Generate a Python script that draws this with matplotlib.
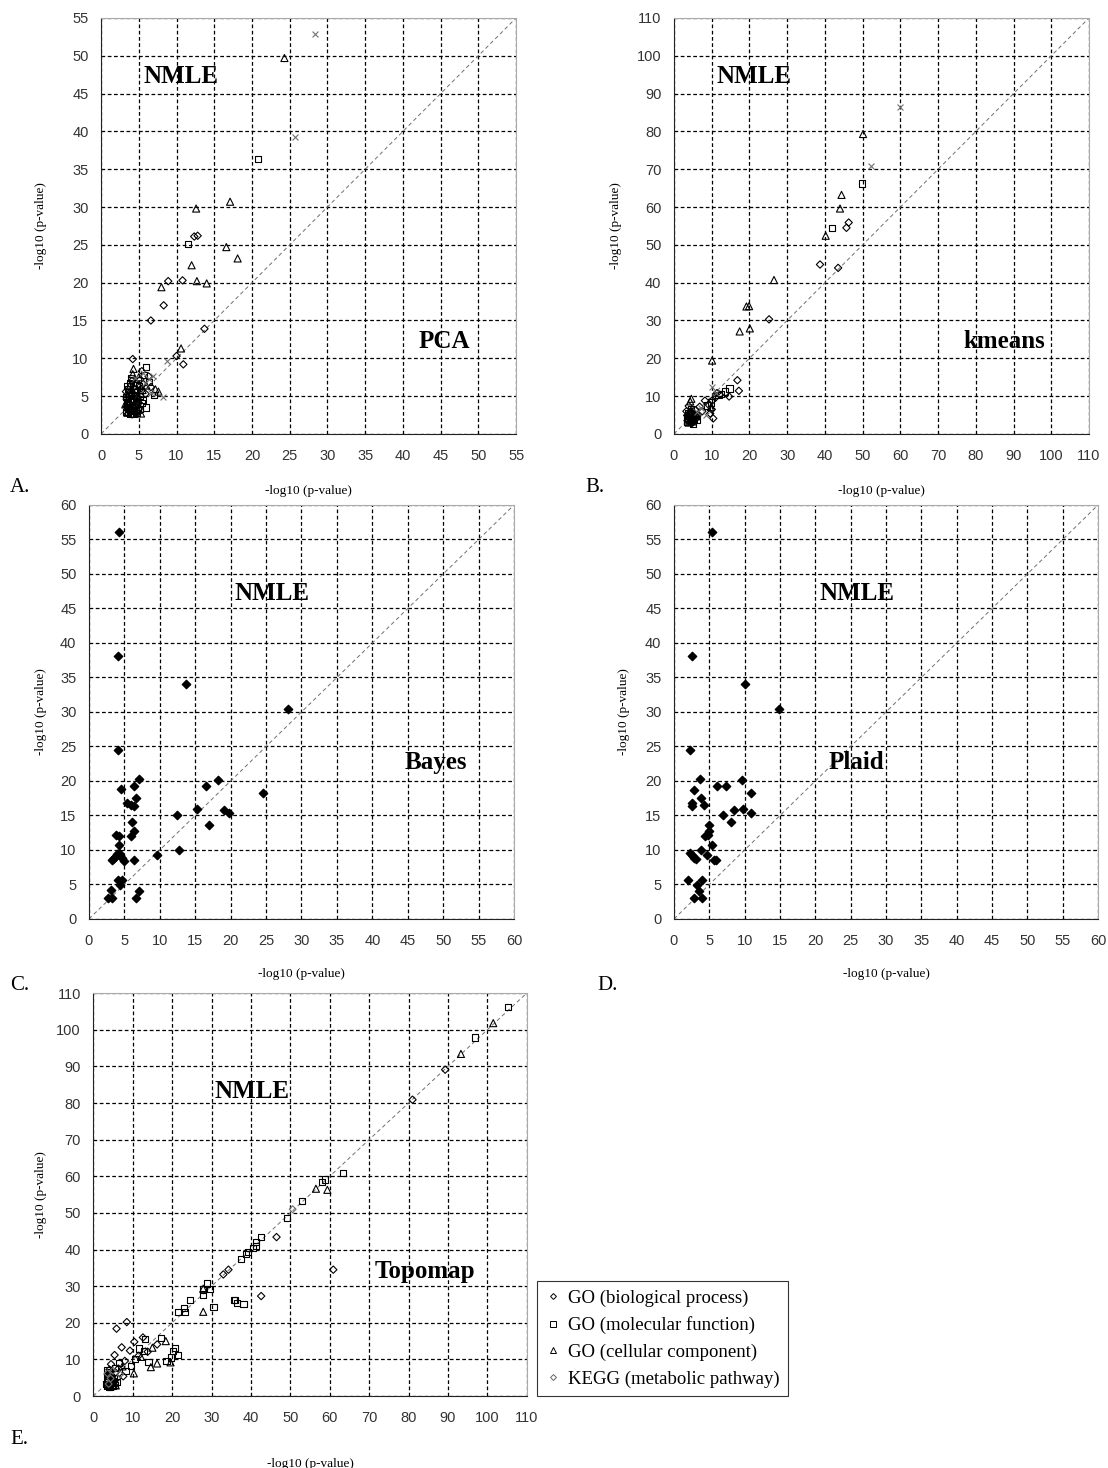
import matplotlib
matplotlib.use('Agg')
import matplotlib.pyplot as plt
from matplotlib.lines import Line2D

# ---- datos ----
# A: NMLE vs PCA
A_bp_x = [12.35, 12.8, 8.9, 10.8, 8.3, 6.6, 13.7, 10.0, 10.9, 4.2, 5.4, 3.5, 3.8, 4.0, 4.3, 4.6, 4.9, 5.2, 5.6, 3.3, 4.1, 4.7, 5.9, 6.3, 3.6, 4.4, 5.1, 6.6, 3.9, 4.8, 3.4,
          3.7, 4.2, 4.5, 5.0, 3.4, 3.9, 4.4, 4.8, 5.3, 3.6, 4.1, 4.6]
A_bp_y = [26.1, 26.2, 20.2, 20.3, 17.0, 15.0, 13.9, 10.3, 9.2, 9.9, 8.3, 3.2, 4.0, 5.2, 6.1, 3.6, 4.8, 7.2, 6.6, 5.6, 7.0, 2.9, 5.3, 7.6, 2.7, 4.4, 3.4, 6.2, 3.1, 5.7, 4.6,
          3.8, 4.4, 2.8, 4.1, 3.6, 5.5, 5.0, 3.0, 6.0, 4.9, 2.6, 6.7]
A_mf_x = [20.75, 11.5, 6.0, 3.4, 7.0, 6.0, 3.6, 4.0, 4.5, 3.3, 4.2, 5.0, 5.4, 3.7, 4.9, 5.7, 3.5, 4.4, 5.2, 6.4, 3.9,
          3.5, 4.1, 4.6, 3.8, 4.3, 4.8, 3.3, 5.1, 4.0, 4.7, 3.6, 5.5]
A_mf_y = [36.3, 25.1, 8.8, 6.3, 5.1, 3.5, 3.5, 4.6, 5.5, 2.9, 3.0, 6.3, 4.1, 5.0, 3.2, 7.8, 4.2, 2.6, 5.0, 6.9, 6.7,
          3.9, 3.6, 4.8, 2.7, 5.9, 2.8, 4.9, 3.3, 7.4, 6.4, 5.9, 4.5]
A_cc_x = [24.3, 17.1, 12.6, 16.6, 18.1, 12.0, 12.7, 14.0, 8.0, 10.6, 4.3, 7.2, 7.6, 3.8, 4.1, 4.6, 3.5, 5.0, 4.3, 3.9, 5.5, 6.0, 4.7, 3.2, 5.3,
          3.6, 4.0, 4.5, 4.9, 3.4, 4.2]
A_cc_y = [49.7, 30.7, 29.8, 24.7, 23.2, 22.3, 20.2, 19.9, 19.4, 11.3, 8.6, 5.9, 5.6, 3.7, 5.8, 4.2, 2.8, 7.5, 3.3, 6.5, 5.8, 6.4, 3.9, 3.9, 2.7,
          4.3, 3.2, 5.1, 4.6, 5.3, 7.9]
A_kegg_x = [28.4, 25.7, 8.8, 8.2, 6.3, 5.8, 6.9, 5.5, 6.6, 4.5]
A_kegg_y = [52.9, 39.2, 9.7, 4.9, 7.2, 6.8, 7.6, 8.1, 5.4, 7.4]

# B: NMLE vs kmeans
B_bp_x = [46.3, 45.7, 38.7, 43.5, 25.2, 16.8, 17.2, 14.6, 12.1, 11.0, 10.2, 9.3, 9.6, 10.4, 8.2, 7.5, 6.8, 10.0, 11.4, 3.6, 4.0, 4.5, 5.1, 5.6, 3.3, 4.8, 6.2, 3.9, 5.3,
          4.2, 4.7, 5.4, 3.5, 4.4, 5.0, 3.8]
B_bp_y = [55.9, 54.5, 44.8, 43.9, 30.3, 14.2, 11.4, 9.9, 10.4, 9.6, 8.9, 7.6, 5.4, 4.1, 8.8, 6.0, 7.2, 6.5, 10.8, 3.5, 4.6, 5.5, 3.9, 6.3, 6.0, 2.9, 4.8, 7.4, 5.1,
          3.2, 4.0, 4.4, 4.9, 5.8, 3.1, 3.8]
B_mf_x = [49.8, 41.8, 14.7, 13.6, 12.5, 11.8, 9.9, 8.7, 3.4, 4.2, 4.9, 5.5, 3.8, 4.6, 6.0, 5.0,
          4.0, 4.5, 5.2, 3.6, 4.8, 5.8]
B_mf_y = [66.2, 54.4, 12.0, 11.2, 10.6, 10.2, 8.3, 7.5, 3.1, 3.8, 4.4, 5.3, 5.6, 6.5, 3.6, 2.7,
          4.9, 3.4, 3.9, 4.3, 5.0, 4.8]
B_cc_x = [50.1, 44.4, 44.0, 40.2, 26.5, 19.2, 19.9, 17.4, 20.1, 10.1, 4.6, 4.3, 9.8, 3.7, 4.4, 5.2, 3.9, 4.8, 5.7,
          4.1, 5.0]
B_cc_y = [79.3, 63.2, 59.6, 52.4, 40.7, 33.7, 33.8, 27.1, 27.9, 19.4, 9.3, 8.6, 7.1, 4.2, 5.0, 4.1, 3.0, 6.0, 4.6,
          3.6, 3.3]
B_kegg_x = [59.8, 52.2, 10.1, 11.2, 7.2, 6.1, 8.4]
B_kegg_y = [86.5, 70.9, 12.5, 10.9, 6.8, 5.7, 5.0]

# C: NMLE vs Bayes
C_x = [4.2, 4.1, 13.7, 28.1, 4.1, 7.1, 16.5, 18.2, 4.5, 6.4, 6.6, 5.3, 6.0, 6.4, 24.6, 15.2, 19.0, 19.8, 12.4, 16.9, 6.1, 6.4, 6.0, 3.8, 4.3, 4.2, 12.7, 9.6, 3.2, 3.7, 4.0, 4.4, 4.6, 5.0, 3.4, 4.2, 6.4, 4.1, 4.6, 4.4, 7.1, 3.1, 2.7, 3.3, 6.6]
C_y = [56.1, 38.1, 34.1, 30.4, 24.5, 20.3, 19.3, 20.2, 18.8, 19.3, 17.5, 16.8, 16.5, 16.4, 18.2, 15.9, 15.8, 15.3, 15.1, 13.6, 14.0, 12.7, 12.0, 12.2, 12.0, 10.7, 10.0, 9.3, 8.5, 9.0, 9.4, 9.2, 8.8, 8.4, 8.7, 9.5, 8.5, 5.7, 5.6, 4.9, 4.1, 4.2, 3.1, 3.1, 3.1]

# D: NMLE vs Plaid
D_x = [5.4, 2.6, 10.0, 14.8, 2.2, 3.7, 9.6, 7.4, 6.1, 2.9, 10.9, 3.8, 2.5, 2.5, 4.2, 8.5, 9.7, 10.9, 6.9, 8.0, 4.9, 4.9, 4.4, 4.8, 5.4, 3.8, 2.3, 2.6, 2.9, 3.1, 4.7, 5.6, 5.9, 2.0, 4.0, 3.2, 3.6, 2.9, 4.0]
D_y = [56.1, 38.1, 34.1, 30.4, 24.5, 20.3, 20.2, 19.3, 19.3, 18.7, 18.2, 17.5, 16.8, 16.4, 16.5, 15.8, 15.9, 15.4, 15.1, 14.0, 13.6, 12.8, 12.0, 12.2, 10.7, 10.0, 9.5, 9.2, 8.8, 8.7, 9.3, 8.6, 8.5, 5.7, 5.7, 4.9, 4.1, 3.1, 3.1]

# E: NMLE vs Topomap
E_bp_x = [89.3, 81.0, 46.5, 34.3, 33.0, 60.9, 42.6, 8.5, 5.9, 12.6, 10.4, 16.2, 9.3, 7.2, 5.4, 8.0, 11.5, 4.5, 6.4, 3.7, 4.9, 3.5, 5.6, 7.6, 13.8,
          4.1, 4.8, 5.3, 3.9, 6.1]
E_bp_y = [89.1, 80.9, 43.4, 34.5, 33.2, 34.5, 27.3, 20.2, 18.4, 16.0, 14.8, 14.1, 12.4, 13.3, 11.2, 9.6, 11.0, 8.7, 7.5, 5.9, 4.6, 3.8, 6.4, 5.4, 12.1,
          7.2, 3.4, 2.8, 4.3, 4.9]
E_mf_x = [105.3, 96.9, 63.3, 58.8, 58.0, 52.9, 49.2, 42.6, 41.2, 41.3, 40.6, 39.3, 38.8, 37.5, 28.8, 29.6, 27.9, 27.9, 24.5, 35.7, 36.0, 36.5, 38.1, 30.5, 23.1, 23.3, 21.4, 20.8, 21.4, 19.8, 20.3, 18.6, 17.1, 13.2, 11.6, 12.9, 14.0, 10.6, 9.5, 8.2, 6.5, 3.3, 3.8, 4.3, 4.6, 5.2, 3.5, 6.0, 5.5, 4.0, 3.4,
          3.6, 4.1, 4.5, 5.0, 3.7, 4.4, 4.9, 3.9, 4.2, 4.7, 5.4]
E_mf_y = [106.3, 97.9, 60.9, 59.1, 58.4, 53.2, 48.6, 43.4, 42.0, 41.0, 40.5, 39.3, 38.7, 37.5, 30.7, 29.2, 29.1, 27.7, 26.3, 26.3, 26.2, 25.4, 25.1, 24.3, 24.1, 23.0, 23.0, 13.1, 11.3, 10.5, 12.2, 9.6, 15.8, 15.6, 13.0, 12.3, 9.4, 10.1, 8.3, 6.8, 9.0, 3.4, 4.5, 6.1, 3.1, 5.0, 7.0, 3.8, 7.6, 2.6, 5.4,
          2.9, 3.2, 3.9, 4.2, 4.0, 5.3, 2.7, 6.6, 2.4, 3.5, 3.1]
E_cc_x = [101.5, 93.3, 56.5, 59.4, 27.9, 27.9, 18.4, 15.0, 12.1, 19.6, 16.2, 14.6, 10.3, 7.4, 4.1, 4.8, 3.6, 5.7,
          3.8, 4.3, 5.1]
E_cc_y = [101.8, 93.4, 56.6, 56.3, 29.3, 23.0, 15.0, 13.2, 10.7, 9.2, 8.9, 7.9, 6.2, 8.1, 3.9, 5.6, 4.8, 2.9,
          3.0, 2.5, 4.0]
E_kegg_x = [50.6, 3.9, 4.4, 5.0, 3.6, 6.8]
E_kegg_y = [51.0, 3.3, 4.8, 6.9, 6.2, 5.9]

leyendas = ['GO (biological process)', 'GO (molecular function)',
            'GO (cellular component)', 'KEGG (metabolic pathway)']

SERIF = ['Liberation Serif', 'DejaVu Serif']
TICKFONT = ['Liberation Sans Narrow', 'Liberation Sans', 'DejaVu Sans']

fig = plt.figure(figsize=(11.08, 14.68), dpi=100)


def preparar_eje(rect, vmax, paso, ylab_x, xlab_y):
    ax = fig.add_axes(rect)
    ax.set_xlim(0, vmax)
    ax.set_ylim(0, vmax)
    ticks = list(range(0, vmax + 1, paso))
    ax.set_xticks(ticks)
    ax.set_yticks(ticks)
    ax.grid(True, color='black', linestyle=(0, (3, 2)), linewidth=0.9)
    ax.set_axisbelow(True)
    # diagonal y = x
    ax.plot([0, vmax], [0, vmax], color='#707070', linestyle=(0, (4, 3)), linewidth=0.7, zorder=1)
    for lado in ['left', 'bottom']:
        ax.spines[lado].set_color('#222222')
    for lado in ['top', 'right']:
        ax.spines[lado].set_color('#aaaaaa')
    ax.tick_params(length=0, labelsize=10.5, labelcolor='#333333')
    ax.tick_params(axis='x', pad=11)
    ax.tick_params(axis='y', pad=9)
    for lab in ax.get_xticklabels() + ax.get_yticklabels():
        lab.set_family(TICKFONT)
    ax.set_xlabel('-log10 (p-value)', family=SERIF, fontsize=9.5)
    ax.set_ylabel('-log10 (p-value)', family=SERIF, fontsize=9.5)
    ax.xaxis.set_label_coords(0.5, xlab_y)
    ax.yaxis.set_label_coords(ylab_x, 0.5)
    return ax


def etiqueta(ax, x, y, texto):
    ax.text(x, y, texto, transform=ax.transAxes, ha='center', va='center',
            family=SERIF, fontsize=18, fontweight='bold', zorder=5)


def puntos_go(ax, bp, mf, cc, kegg, kegg_marker='x'):
    ax.scatter(bp[0], bp[1], marker='D', s=14, facecolors='none', edgecolors='black', linewidths=0.8, zorder=3)
    ax.scatter(mf[0], mf[1], marker='s', s=20, facecolors='none', edgecolors='black', linewidths=0.8, zorder=3)
    ax.scatter(cc[0], cc[1], marker='^', s=26, facecolors='none', edgecolors='black', linewidths=0.8, zorder=3)
    if kegg_marker == 'x':
        ax.scatter(kegg[0], kegg[1], marker='x', s=18, color='#707070', linewidths=0.8, zorder=3)
    else:
        ax.scatter(kegg[0], kegg[1], marker='D', s=12, facecolors='none', edgecolors='#707070', linewidths=0.8, zorder=3)


# A
axA = preparar_eje([0.0912, 0.7044, 0.3746, 0.2834], 55, 5, -0.13, -0.123)
puntos_go(axA, (A_bp_x, A_bp_y), (A_mf_x, A_mf_y), (A_cc_x, A_cc_y), (A_kegg_x, A_kegg_y))
etiqueta(axA, 0.193, 0.86, 'NMLE')
etiqueta(axA, 0.826, 0.221, 'PCA')

# B
axB = preparar_eje([0.6083, 0.7044, 0.3746, 0.2834], 110, 10, -0.125, -0.123)
puntos_go(axB, (B_bp_x, B_bp_y), (B_mf_x, B_mf_y), (B_cc_x, B_cc_y), (B_kegg_x, B_kegg_y))
etiqueta(axB, 0.193, 0.858, 'NMLE')
etiqueta(axB, 0.795, 0.221, 'kmeans')

# C
axC = preparar_eje([0.0803, 0.374, 0.3836, 0.282], 60, 5, -0.099, -0.118)
axC.scatter(C_x, C_y, marker='D', s=18, color='black', zorder=3)
etiqueta(axC, 0.43, 0.787, 'NMLE')
etiqueta(axC, 0.816, 0.377, 'Bayes')

# D
axD = preparar_eje([0.6083, 0.374, 0.3827, 0.282], 60, 5, -0.104, -0.118)
axD.scatter(D_x, D_y, marker='D', s=18, color='black', zorder=3)
etiqueta(axD, 0.431, 0.787, 'NMLE')
etiqueta(axD, 0.431, 0.377, 'Plaid')

# E
axE = preparar_eje([0.0842, 0.049, 0.3912, 0.2745], 110, 10, -0.107, -0.154)
puntos_go(axE, (E_bp_x, E_bp_y), (E_mf_x, E_mf_y), (E_cc_x, E_cc_y), (E_kegg_x, E_kegg_y), kegg_marker='D')
etiqueta(axE, 0.365, 0.757, 'NMLE')
etiqueta(axE, 0.765, 0.31, 'Topomap')

# leyenda
manijas = [
    Line2D([], [], linestyle='none', marker='D', markersize=3, markerfacecolor='none', markeredgecolor='black', markeredgewidth=0.7),
    Line2D([], [], linestyle='none', marker='s', markersize=4, markerfacecolor='none', markeredgecolor='black', markeredgewidth=0.7),
    Line2D([], [], linestyle='none', marker='^', markersize=4, markerfacecolor='none', markeredgecolor='black', markeredgewidth=0.7),
    Line2D([], [], linestyle='none', marker='D', markersize=3, markerfacecolor='none', markeredgecolor='#666666', markeredgewidth=0.7),
]
ley = fig.legend(manijas, leyendas, loc='lower left', bbox_to_anchor=(0.4847, 0.049),
                 prop={'family': SERIF, 'size': 13.5}, frameon=True, fancybox=False,
                 edgecolor='black', handlelength=0.8, handletextpad=0.4,
                 labelspacing=0.5, borderpad=0.45, borderaxespad=0)
ley.get_frame().set_linewidth(0.8)

# letras de los paneles
for letra, x, y in [('A.', 10, 487), ('B.', 585, 487), ('C.', 10, 985), ('D.', 597, 985), ('E.', 10, 1440)]:
    fig.text(x / 1108, 1 - y / 1468, letra, family=SERIF, fontsize=15, va='center', ha='left')

fig.savefig('out.png', dpi=100)
